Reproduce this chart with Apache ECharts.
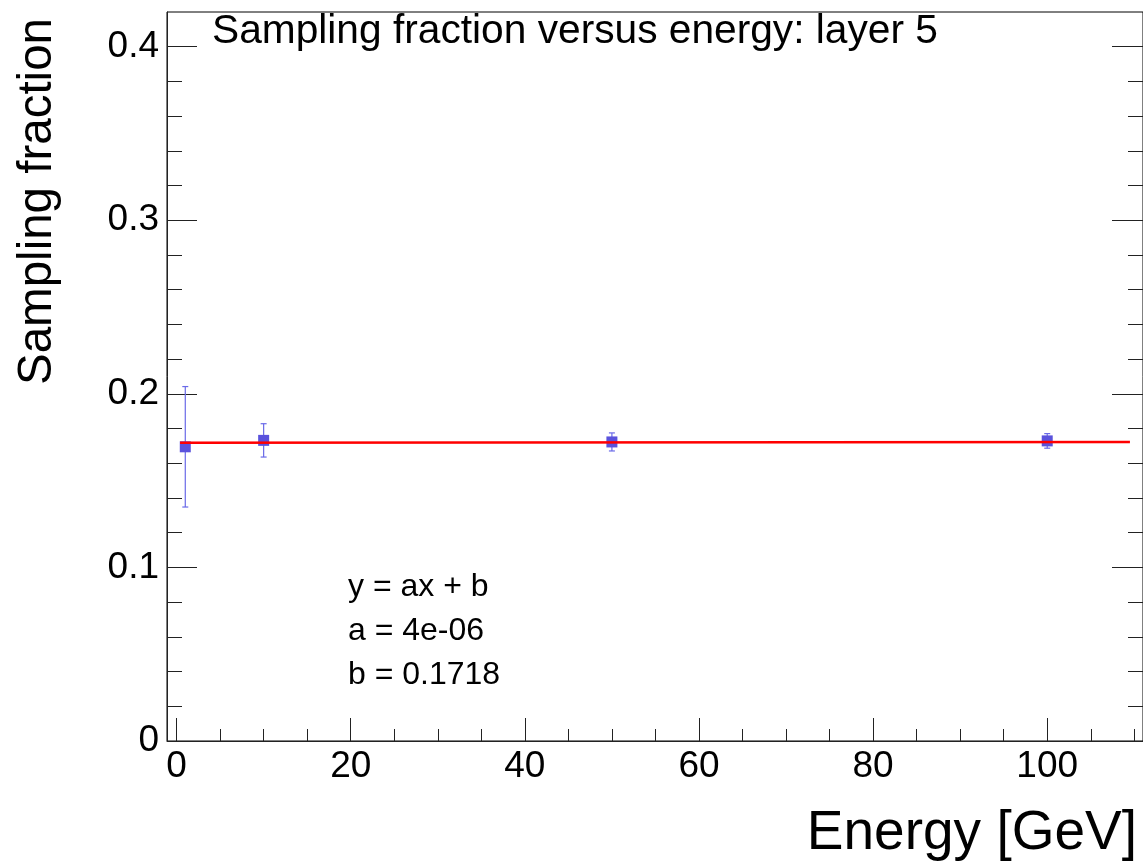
<!DOCTYPE html>
<html>
<head>
<meta charset="utf-8">
<script src="https://cdn.jsdelivr.net/npm/echarts@6/dist/echarts.min.js"></script>
<style>
  html, body { margin: 0; padding: 0; background: #fff; }
  #main { width: 1143px; height: 864px; }
</style>
</head>
<body>
<div id="main"></div>
<script>
// measured points
var energy = [1, 10, 50, 100];
var fraction = [0.1695, 0.1732, 0.1723, 0.1729];
var fractionErr = [0.0347, 0.0096, 0.0052, 0.0042];

// fit y = a*x + b
var fitA = 4e-06;
var fitB = 0.1718;
var fitRange = [0.4, 109.5];

// axis ticks
var xMajor = [0, 20, 40, 60, 80, 100];
var xMinor = [5, 10, 15, 25, 30, 35, 45, 50, 55, 65, 70, 75, 85, 90, 95, 105, 110];
var yMajor = [0, 0.1, 0.2, 0.3, 0.4];
var yMinor = [0.02, 0.04, 0.06, 0.08, 0.12, 0.14, 0.16, 0.18, 0.22, 0.24, 0.26, 0.28,
              0.32, 0.34, 0.36, 0.38];

var fitLabels = ['y = ax + b', 'a = 4e-06', 'b = 0.1718'];

var font = '"Liberation Sans", Arial, Helvetica, sans-serif';
var tickColor = '#222';

var points = energy.map(function (e, i) { return [e, fraction[i]]; });
var errData = energy.map(function (e, i) { return [e, fraction[i], fractionErr[i]]; });
var fitData = fitRange.map(function (x) { return [x, fitA * x + fitB]; });

function xAxisOf(ticks, len, labels, line) {
	return {
		type: 'value', min: -1.1, max: 111, position: 'bottom',
		axisLine: { show: line, onZero: false, lineStyle: { color: tickColor, width: 1 } },
		axisTick: { show: true, inside: true, length: len, customValues: ticks,
			lineStyle: { color: tickColor, width: 1 } },
		axisLabel: labels ? { show: true, customValues: ticks, fontSize: 37, margin: 7,
			color: '#000', fontFamily: font } : { show: false },
		splitLine: { show: false }
	};
}
function yAxisOf(pos, ticks, len, labels, line) {
	return {
		type: 'value', min: 0, max: 0.42, position: pos,
		axisLine: { show: line, onZero: false, lineStyle: { color: tickColor, width: 1 } },
		axisTick: { show: true, inside: true, length: len, customValues: ticks,
			lineStyle: { color: tickColor, width: 1 } },
		axisLabel: labels ? { show: true, customValues: ticks, fontSize: 37, margin: 8,
			color: '#000', fontFamily: font,
			formatter: function (v) { return v === 0 ? '0' : v.toFixed(1); } } : { show: false },
		splitLine: { show: false }
	};
}

var chart = echarts.init(document.getElementById('main'));
var option = {
	animation: false,
	backgroundColor: '#fff',
	grid: { left: 167, top: 12, right: 0, bottom: 123, show: true,
		borderColor: '#000', borderWidth: 1, backgroundColor: 'transparent' },
	xAxis: [
		xAxisOf(xMajor, 23, true, true),
		xAxisOf(xMinor, 12, false, false)
	],
	yAxis: [
		yAxisOf('left', yMajor, 30, true, true),
		yAxisOf('left', yMinor, 15, false, false),
		yAxisOf('right', yMajor, 31, false, false),
		yAxisOf('right', yMinor, 15, false, false)
	],
	graphic: [
		{ type: 'text', x: 212, y: 32, z: 100,
			style: { text: 'Sampling fraction versus energy: layer 5', font: '40.7px ' + font,
				fill: '#000', textAlign: 'left', textVerticalAlign: 'middle' } },
		{ type: 'text', x: 38, y: 18, rotation: Math.PI / 2, z: 100,
			style: { text: 'Sampling fraction', font: '47.5px ' + font,
				fill: '#000', textAlign: 'right', textVerticalAlign: 'middle' } },
		{ type: 'text', x: 1137, y: 834, z: 100,
			style: { text: 'Energy [GeV]', font: '55px ' + font,
				fill: '#000', textAlign: 'right', textVerticalAlign: 'middle' } },
		{ type: 'text', x: 348, y: 587, z: 100,
			style: { text: fitLabels[0], font: '32px ' + font, fill: '#000',
				textVerticalAlign: 'middle' } },
		{ type: 'text', x: 348, y: 631, z: 100,
			style: { text: fitLabels[1], font: '32px ' + font, fill: '#000',
				textVerticalAlign: 'middle' } },
		{ type: 'text', x: 348, y: 675, z: 100,
			style: { text: fitLabels[2], font: '32px ' + font, fill: '#000',
				textVerticalAlign: 'middle' } }
	],
	series: [
		{
			type: 'custom',
			name: 'errors',
			xAxisIndex: 0, yAxisIndex: 0,
			data: errData,
			z: 2,
			renderItem: function (params, api) {
				var x = api.value(0), y = api.value(1), e = api.value(2);
				var top = api.coord([x, y + e]);
				var bot = api.coord([x, y - e]);
				var st = { stroke: '#6a6ae8', lineWidth: 1.2 };
				return {
					type: 'group',
					children: [
						{ type: 'line', shape: { x1: top[0], y1: top[1], x2: bot[0], y2: bot[1] }, style: st },
						{ type: 'line', shape: { x1: top[0] - 3, y1: top[1], x2: top[0] + 3, y2: top[1] }, style: st },
						{ type: 'line', shape: { x1: bot[0] - 3, y1: bot[1], x2: bot[0] + 3, y2: bot[1] }, style: st }
					]
				};
			}
		},
		{
			type: 'scatter',
			name: 'points',
			xAxisIndex: 0, yAxisIndex: 0,
			data: points,
			symbol: 'rect',
			symbolSize: 11,
			itemStyle: { color: '#5a52dc', opacity: 1 },
			z: 3
		},
		{
			type: 'line',
			name: 'fit',
			xAxisIndex: 0, yAxisIndex: 0,
			data: fitData,
			showSymbol: false,
			lineStyle: { color: '#ff0000', width: 2.5 },
			z: 4
		}
	]
};
chart.setOption(option);
</script>
</body>
</html>
